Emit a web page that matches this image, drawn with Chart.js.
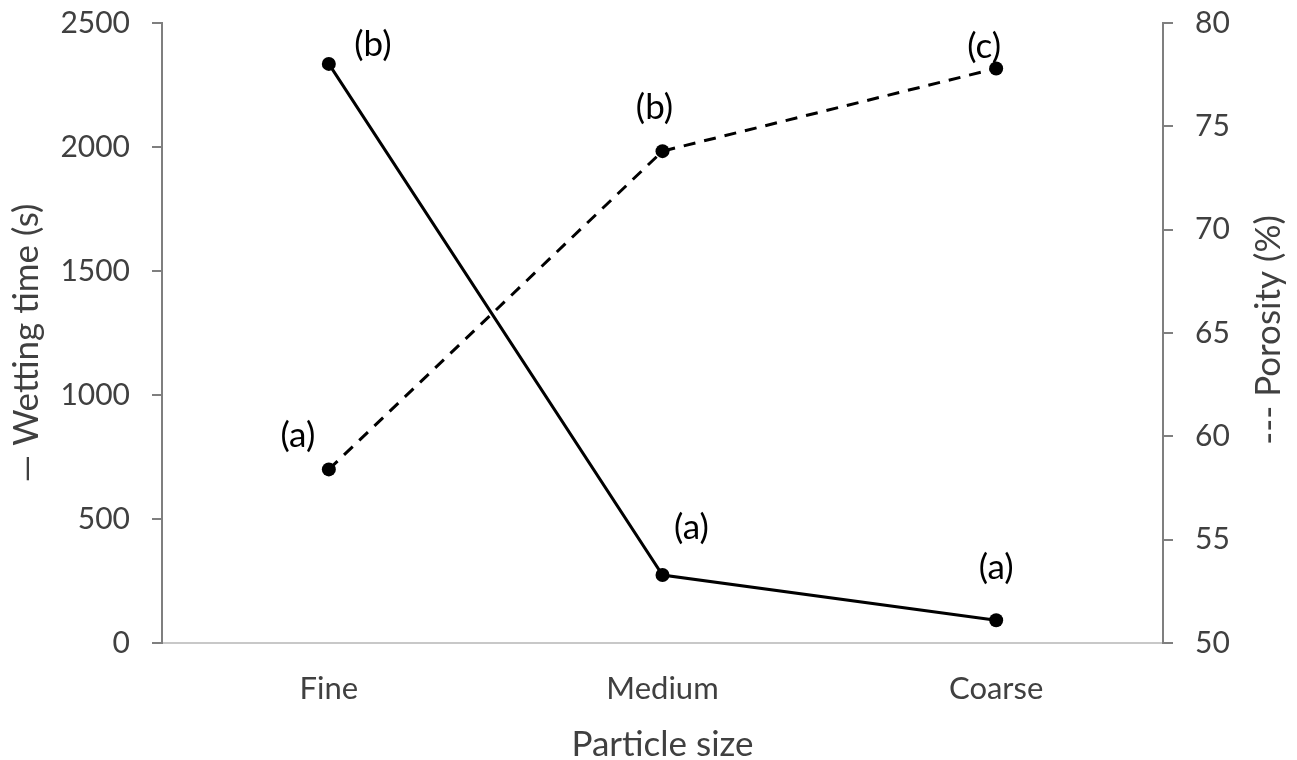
<!DOCTYPE html>
<html>
<head>
<meta charset="utf-8">
<script src="https://cdn.jsdelivr.net/npm/chart.js@4.4.0/dist/chart.umd.min.js"></script>
<style>
html,body{margin:0;padding:0;background:#fff;}
#wrap{width:1297px;height:760px;position:relative;}
</style>
</head>
<body>
<div id="wrap"><canvas id="c" width="1297" height="760"></canvas></div>
<script>
const categories = ['Fine', 'Medium', 'Coarse'];
const wettingTime = [2335, 274, 92];
const porosity = [58.4, 73.8, 77.8];
const wettingLetters = ['(b)', '(a)', '(a)'];
const porosityLetters = ['(a)', '(b)', '(c)'];
const leftTicks = [0, 500, 1000, 1500, 2000, 2500];
const rightTicks = [50, 55, 60, 65, 70, 75, 80];
const xTitle = 'Particle size';
const leftTitle = '\u2014 Wetting time (s)';
const rightTitle = '--- Porosity (%)';

const FONT = 'Lato, "Open Sans", sans-serif';
const GREY = '#404040';

const letterPlugin = {
  id: 'letters',
  afterDatasetsDraw(chart, args, opts) {
    const ctx = chart.ctx;
    ctx.save();
    ctx.font = '35px ' + FONT;
    ctx.fillStyle = '#000';
    ctx.textAlign = 'center';
    ctx.textBaseline = 'middle';
    opts.sets.forEach(s => {
      const meta = chart.getDatasetMeta(s.dataset);
      meta.data.forEach((pt, i) => {
        const off = s.offsets[i];
        ctx.fillText(s.labels[i], pt.x + off[0], pt.y + off[1]);
      });
    });
    ctx.restore();
  }
};

const titlePlugin = {
  id: 'axisTitles',
  afterDraw(chart) {
    const ctx = chart.ctx;
    const a = chart.chartArea;
    const midY = (a.top + a.bottom) / 2;
    ctx.save();
    ctx.fillStyle = GREY;
    ctx.font = '35px ' + FONT;
    ctx.textAlign = 'center';
    ctx.textBaseline = 'alphabetic';
    ctx.fillText(xTitle, (a.left + a.right) / 2, chart.height - 4);
    ctx.save();
    ctx.translate(38, midY + 10);
    ctx.rotate(-Math.PI / 2);
    ctx.fillText(leftTitle, 0, 0);
    ctx.restore();
    ctx.save();
    ctx.translate(chart.width - 17, midY - 3);
    ctx.rotate(-Math.PI / 2);
    ctx.fillText(rightTitle, 0, 0);
    ctx.restore();
    ctx.restore();
  }
};

function noPad(s) { s.paddingTop = 0; s.paddingBottom = 0; }

new Chart(document.getElementById('c'), {
  type: 'line',
  data: {
    labels: categories,
    datasets: [
      {
        label: 'Wetting time (s)',
        data: wettingTime,
        yAxisID: 'y',
        borderColor: '#000',
        backgroundColor: '#000',
        borderWidth: 3,
        pointRadius: 7,
        pointBackgroundColor: '#000',
        pointBorderWidth: 0,
        tension: 0
      },
      {
        label: 'Porosity (%)',
        data: porosity,
        yAxisID: 'y1',
        borderColor: '#000',
        backgroundColor: '#000',
        borderWidth: 3,
        borderDash: [12, 9],
        pointRadius: 7,
        pointBackgroundColor: '#000',
        pointBorderWidth: 0,
        tension: 0
      }
    ]
  },
  options: {
    responsive: false,
    animation: false,
    layout: { padding: { top: 23, bottom: 0, left: 0, right: 0 } },
    plugins: {
      legend: { display: false },
      tooltip: { enabled: false },
      letters: {
        sets: [
          { dataset: 0, labels: wettingLetters, offsets: [[44, -19], [29, -47], [0, -52]] },
          { dataset: 1, labels: porosityLetters, offsets: [[-31, -34], [-8, -43], [-12, -22]] }
        ]
      }
    },
    scales: {
      x: {
        offset: true,
        grid: { display: false, drawTicks: false },
        border: { display: true, color: '#c8c8c8', width: 2 },
        ticks: { color: GREY, font: { family: FONT, size: 31 }, padding: 27 },
        afterFit(s) { s.height = 117; s.paddingLeft = 0; s.paddingRight = 0; }
      },
      y: {
        position: 'left',
        min: 0, max: 2500,
        afterBuildTicks(s) { s.ticks = leftTicks.map(v => ({ value: v })); },
        grid: { drawOnChartArea: false, drawTicks: true, tickLength: 10, color: '#7f7f7f', lineWidth: 2 },
        border: { display: true, color: '#7f7f7f', width: 2 },
        ticks: { color: GREY, font: { family: FONT, size: 30 }, padding: 22, callback: v => String(v) },
        afterFit(s) { s.width = 162; noPad(s); }
      },
      y1: {
        position: 'right',
        min: 50, max: 80,
        afterBuildTicks(s) { s.ticks = rightTicks.map(v => ({ value: v })); },
        grid: { drawOnChartArea: false, drawTicks: true, tickLength: 10, color: '#7f7f7f', lineWidth: 2 },
        border: { display: true, color: '#7f7f7f', width: 2 },
        ticks: { color: GREY, font: { family: FONT, size: 30 }, padding: 22, callback: v => String(v) },
        afterFit(s) { s.width = 134; noPad(s); }
      }
    }
  },
  plugins: [letterPlugin, titlePlugin]
});
</script>
</body>
</html>
